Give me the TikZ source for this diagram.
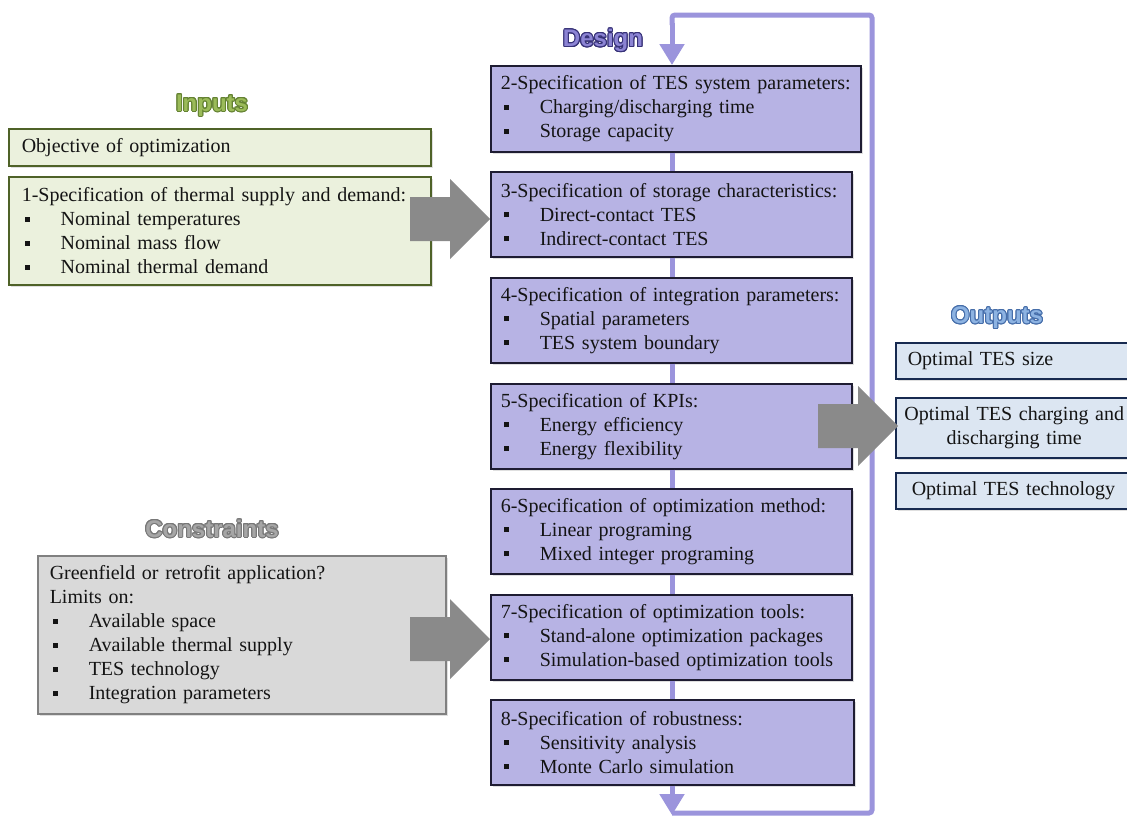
\documentclass[tikz,border=0pt]{standalone}
\usepackage{fontspec}
\setmainfont{Liberation Serif}
\newfontfamily\titlefamily{Liberation Sans}
\usepackage[copies]{contour}
\usetikzlibrary{arrows.meta,calc,shadows}
\definecolor{dfill}{RGB}{183,179,228}
\definecolor{dline}{RGB}{30,28,50}
\definecolor{loopc}{RGB}{155,148,220}
\definecolor{ifill}{RGB}{235,241,221}
\definecolor{iline}{RGB}{79,98,40}
\definecolor{ofill}{RGB}{220,230,242}
\definecolor{oline}{RGB}{23,42,80}
\definecolor{cfill}{RGB}{217,217,217}
\definecolor{cline}{RGB}{128,128,128}
\definecolor{arrgray}{RGB}{138,138,138}
\definecolor{tin}{RGB}{155,187,89}
\definecolor{tinl}{RGB}{100,130,50}
\definecolor{tde}{RGB}{140,132,212}
\definecolor{tdel}{RGB}{55,50,120}
\definecolor{tou}{RGB}{141,179,226}
\definecolor{toul}{RGB}{70,110,170}
\definecolor{tco}{RGB}{166,166,166}
\definecolor{tcol}{RGB}{120,120,120}
\definecolor{txt}{RGB}{20,20,20}
\newcommand{\bitem}[1]{\makebox[39pt][l]{\hspace{3pt}\rule[4pt]{5pt}{5pt}}#1}
\newcommand{\ttl}[3]{{\titlefamily\bfseries\fontsize{24}{28}\selectfont\contourlength{1pt}\contour{#1}{\textcolor{#2}{#3}}}}
\tikzset{
  box/.style={anchor=north west, inner xsep=10pt, inner ysep=0pt, align=left,
    font=\fontsize{20}{24}\selectfont, text=txt, line width=1.5pt,
    drop shadow={shadow xshift=2pt, shadow yshift=-2pt, opacity=0.25}},
  dbox/.style={box, draw=dline, fill=dfill},
  ibox/.style={box, draw=iline, fill=ifill, inner xsep=13pt},
  obox/.style={box, draw=oline, fill=ofill, inner xsep=6pt},
  cbox/.style={box, draw=cline, fill=cfill, inner xsep=12pt},
  loopline/.style={draw=loopc, line width=5pt},
  looptip/.style={-{Triangle[width=24pt,length=21pt]}},
  bigarr/.pic={\fill[arrgray] (0,0) -- (-40,-40) -- (-40,-22) -- (-80,-22) -- (-80,22) -- (-40,22) -- (-40,40) -- cycle;}
}
\begin{document}
\begin{tikzpicture}[x=1pt,y=-1pt]
\useasboundingbox (0,0) rectangle (1127,817);
\fill[white] (0,0) rectangle (1127,817);
\clip (0,0) rectangle (1127,817);

% titles
\node (tInputs) at (212,106) {\ttl{tinl}{tin}{Inputs}};
\node (tDesign) at (603,41) {\ttl{tdel}{tde}{Design}};
\node (tOutputs) at (997,318) {\ttl{toul}{tou}{Outputs}};
\node (tConstr) at (212,529) {\ttl{tcol}{tco}{Constraints}};

% loop coordinates
\coordinate (lt) at (672,15);
\coordinate (rt) at (872,15);
\coordinate (rb) at (872,813);
\coordinate (lb) at (672,813);

% loop path (behind boxes)
\draw[loopline, rounded corners=3pt] (lb) -- (rb) -- (rt) -- (lt) -- ($(lt)+(0,10)$);

% design boxes
\node[dbox, text width=350pt, minimum height=86pt] (d2) at (490,65)
  {2-Specification of TES system parameters:\\ \bitem{Charging/discharging time}\\ \bitem{Storage capacity}};
\node[dbox, text width=341pt, minimum height=85pt] (d3) at (490,171)
  {3-Specification of storage characteristics:\\ \bitem{Direct-contact TES}\\ \bitem{Indirect-contact TES}};
\node[dbox, text width=341pt, minimum height=85pt] (d4) at (490,277)
  {4-Specification of integration parameters:\\ \bitem{Spatial parameters}\\ \bitem{TES system boundary}};
\node[dbox, text width=341pt, minimum height=85pt] (d5) at (490,383)
  {5-Specification of KPIs:\\ \bitem{Energy efficiency}\\ \bitem{Energy flexibility}};
\node[dbox, text width=341pt, minimum height=85pt] (d6) at (490,488)
  {6-Specification of optimization method:\\ \bitem{Linear programing}\\ \bitem{Mixed integer programing}};
\node[dbox, text width=341pt, minimum height=85pt] (d7) at (490,594)
  {7-Specification of optimization tools:\\ \bitem{Stand-alone optimization packages}\\ \bitem{Simulation-based optimization tools}};
\node[dbox, text width=343pt, minimum height=85pt] (d8) at (490,699)
  {8-Specification of robustness:\\ \bitem{Sensitivity analysis}\\ \bitem{Monte Carlo simulation}};

% connectors between design boxes
\draw[loopline, looptip] ($(lt)+(0,8)$) -- (d2.north -| lt);
\draw[loopline] (d2.south -| lt) -- (d3.north -| lt);
\draw[loopline] (d3.south -| lt) -- (d4.north -| lt);
\draw[loopline] (d4.south -| lt) -- (d5.north -| lt);
\draw[loopline] (d5.south -| lt) -- (d6.north -| lt);
\draw[loopline] (d6.south -| lt) -- (d7.north -| lt);
\draw[loopline] (d7.south -| lt) -- (d8.north -| lt);
\draw[loopline, looptip] (d8.south -| lt) -- ($(lb)+(0,2)$);

% inputs
\node[ibox, text width=396pt, minimum height=37pt] (obj) at (8,128)
  {Objective of optimization};
\node[ibox, text width=396pt, minimum height=108pt] (in1) at (8,176)
  {1-Specification of thermal supply and demand:\\ \bitem{Nominal temperatures}\\ \bitem{Nominal mass flow}\\ \bitem{Nominal thermal demand}};

% constraints
\node[cbox, text width=384pt, minimum height=158pt] (con) at (37,555)
  {Greenfield or retrofit application?\\ Limits on:\\ \bitem{Available space}\\ \bitem{Available thermal supply}\\ \bitem{TES technology}\\ \bitem{Integration parameters}};

% outputs
\node[obox, inner xsep=12pt, text width=213pt, minimum height=36pt] (o1) at (895,342)
  {Optimal TES size};
\node[obox, text width=225pt, minimum height=60pt, align=center] (o2) at (895,397)
  {Optimal TES charging and\\ discharging time};
\node[obox, inner xsep=16pt, text width=205pt, minimum height=36pt] (o3) at (895,472)
  {Optimal TES technology};

% big arrows
\pic at ($(d3.west |- 0,219)$) {bigarr};
\pic at ($(d7.west |- 0,639)$) {bigarr};
\pic at ($(o2.west |- 0,426)+(3,0)$) {bigarr};
\end{tikzpicture}
\end{document}
